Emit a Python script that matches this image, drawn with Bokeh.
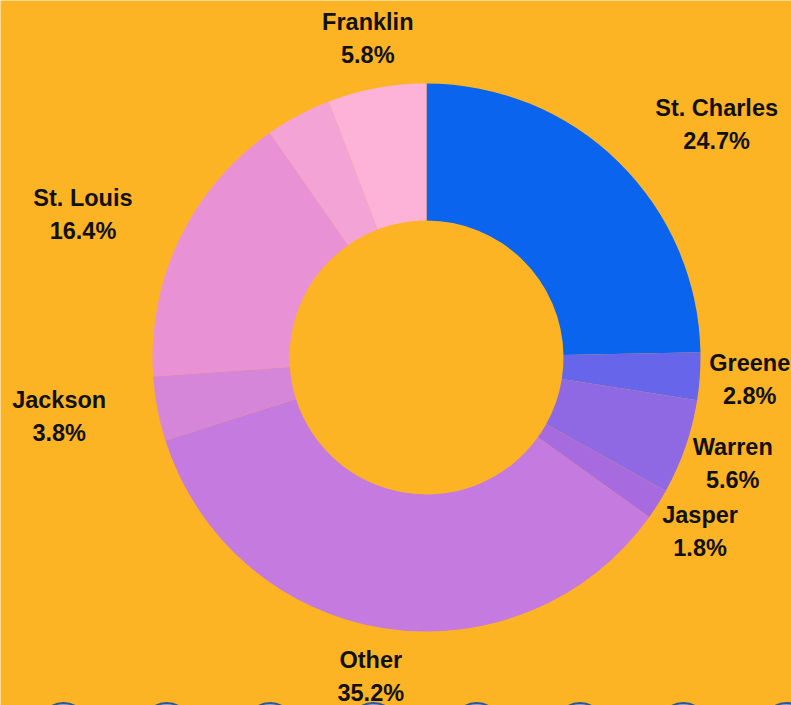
import math
from bokeh.plotting import figure
from bokeh.models import Range1d, ColumnDataSource
from bokeh.core.properties import value
from bokeh.embed import file_html
from bokeh.resources import INLINE

# ---- data (clockwise from 12 o'clock) ----
counties = ["St. Charles", "Greene", "Warren", "Jasper", "Other",
            "Jackson", "St. Louis", "Jefferson", "Franklin"]
shares = [24.7, 2.8, 5.6, 1.8, 35.2, 3.8, 16.4, 3.9, 5.8]
colors = ["#0B64EE", "#6766EA", "#8E69E3", "#A76BDF", "#C47ADE",
          "#D686D8", "#E892D5", "#F3A3D6", "#FDB2D8"]
hidden_labels = {"Jefferson"}

# ---- layout ----
W, H = 791, 705
CX, CY = 426, H - 357
R_OUT, R_IN = 274, 137
BG = "#FDB424"
LABEL_R = 324
# (radius, angle shift in degrees) for labels pushed outward to avoid overlap
label_adjust = {"St. Charles": (372, 6.8), "Jackson": (372, 1.7),
                "St. Louis": (372, -3.0), "Other": (324, 0.9)}
LINE_GAP = 16.5

total = sum(shares)
starts, ends, mids = [], [], []
acc = 0.0
for s in shares:
    a0 = acc / total * 360.0
    acc += s
    a1 = acc / total * 360.0
    starts.append(a0)
    ends.append(a1)
    mids.append((a0 + a1) / 2)

# convert clockwise-from-top degrees to bokeh radians
start_ang = [math.radians(90 - a) for a in starts]
end_ang = [math.radians(90 - a) for a in ends]

p = figure(width=W, height=H, output_backend="svg", toolbar_location=None,
           x_range=Range1d(0, W), y_range=Range1d(0, H),
           min_border=0, x_axis_type=None, y_axis_type=None)
p.background_fill_color = BG
p.border_fill_color = BG
p.outline_line_color = None
p.grid.visible = False

src = ColumnDataSource(dict(start=start_ang, end=end_ang, color=colors,
                            x=[CX] * len(shares), y=[CY] * len(shares)))
p.annular_wedge(x="x", y="y", inner_radius=R_IN, outer_radius=R_OUT,
                start_angle="start", end_angle="end", direction="clock",
                fill_color="color", line_color=None, source=src)

# labels
lx, ly_name, ly_pct, names, pcts = [], [], [], [], []
for name, s, m in zip(counties, shares, mids):
    if name in hidden_labels:
        continue
    r, da = label_adjust.get(name, (LABEL_R, 0.0))
    a = math.radians(m + da)
    x = CX + r * math.sin(a)
    y = CY + r * math.cos(a)
    lx.append(x)
    ly_name.append(y + LINE_GAP)
    ly_pct.append(y - LINE_GAP)
    names.append(name)
    pcts.append(f"{s:.1f}%")

common = dict(text_align="center", text_baseline="middle", text_color="#111111",
              text_font=value("Liberation Sans"), text_font_style="bold",
              text_font_size="23.5px")
p.text(x=lx, y=ly_name, text=names, **common)
p.text(x=lx, y=ly_pct, text=pcts, **common)

# legend markers (mostly cut off by the bottom edge)
LEG_X0, LEG_DX, LEG_R = 63, 103.3, 24
leg_x = [LEG_X0 + i * LEG_DX for i in range(len(counties))]
p.circle(x=leg_x, y=[2.5 - LEG_R] * len(counties), radius=LEG_R,
         fill_color="#8FA3C8", line_color="#2E5597", line_width=2, level="underlay")

open("out.html", "w").write(file_html(p, INLINE))
